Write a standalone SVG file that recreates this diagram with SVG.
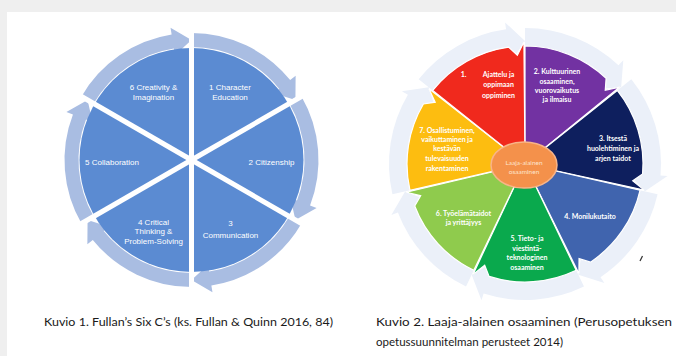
<svg xmlns="http://www.w3.org/2000/svg" width="676" height="356" viewBox="0 0 676 356">
<style>
.lt{font-family:"Liberation Sans",Arial,sans-serif;font-size:8px;fill:#ffffff;text-anchor:middle}
.rt{font-family:Lato,"Liberation Sans",sans-serif;font-size:7px;font-weight:bold;fill:#ffffff;text-anchor:middle}
.ct{font-family:Lato,"Liberation Sans",sans-serif;font-size:6.5px;fill:#fde3cc;text-anchor:middle}
.cap{font-family:Lato,"Liberation Sans",sans-serif;font-size:12px;fill:#1a1a1a}
.ring{fill:#a9bde2}
.pale{fill:#ebf0f9}
.spoke{stroke:#ffffff;stroke-width:5}
.wedge{stroke:#ffffff;stroke-width:1.2}
</style>
<defs>
<path id="larrow" d="M0,-127 A127,127 0 0 1 98.69,-79.92 L104.13,-84.33 L103.92,-60 L82.37,-66.71 L87.81,-71.11 A113,113 0 0 0 0,-113 Z"/>
<path id="parrow" d="M0,-136 A136,136 0 0 1 93.49,-98.78 L98.30,-103.86 L96.16,-76.69 L70.80,-74.81 L75.61,-79.89 A110,110 0 0 0 0,-110 Z"/>
<path id="wedge" d="M0,0 L0,-118 A118,118 0 0 1 81.11,-85.70 L80.26,-73.76 L94.71,-76.91 Z"/>
</defs>
<rect x="0" y="0" width="676" height="356" fill="#efefef"/>
<rect x="7" y="12" width="669" height="344" fill="#ffffff"/>

<g id="fullan-ring" class="ring" transform="translate(191.5,160)">
<use href="#larrow"/>
<use href="#larrow" transform="rotate(60)"/>
<use href="#larrow" transform="rotate(120)"/>
<use href="#larrow" transform="rotate(180)"/>
<use href="#larrow" transform="rotate(240)"/>
<use href="#larrow" transform="rotate(300)"/>
</g>
<g id="fullan-pie">
<circle cx="191.5" cy="160" r="112" fill="#5b8bd2"/>
</g>
<g id="connectors">
<g class="spoke" transform="translate(191.5,160)">
<line x1="0" y1="0" x2="0" y2="-136"/>
<line x1="0" y1="0" x2="117.8" y2="-68"/>
<line x1="0" y1="0" x2="117.8" y2="68"/>
<line x1="0" y1="0" x2="0" y2="136"/>
<line x1="0" y1="0" x2="-117.8" y2="68"/>
<line x1="0" y1="0" x2="-117.8" y2="-68"/>
</g>
</g>
<g id="c1"><text class="lt" x="230" y="90">1 Character</text><text class="lt" x="230" y="100">Education</text></g>
<g id="c2"><text class="lt" x="271.5" y="164.5">2 Citizenship</text></g>
<g id="c3"><text class="lt" x="230.5" y="226">3</text><text class="lt" x="230.5" y="237.5">Communication</text></g>
<g id="c4"><text class="lt" x="153.5" y="224.5">4 Critical</text><text class="lt" x="153.5" y="234">Thinking &amp;</text><text class="lt" x="153.5" y="243.5">Problem-Solving</text></g>
<g id="c5"><text class="lt" x="112" y="164.5">5 Collaboration</text></g>
<g id="c6"><text class="lt" x="153.5" y="90">6 Creativity &amp;</text><text class="lt" x="153.5" y="100">Imagination</text></g>

<g id="laaja-ring" class="pale" transform="translate(525,164)">
<use href="#parrow"/>
<use href="#parrow" transform="rotate(51.43)"/>
<use href="#parrow" transform="rotate(102.86)"/>
<use href="#parrow" transform="rotate(154.29)"/>
<use href="#parrow" transform="rotate(205.71)"/>
<use href="#parrow" transform="rotate(257.14)"/>
<use href="#parrow" transform="rotate(308.57)"/>
</g>
<g id="w2" class="wedge" transform="translate(525,164)"><use href="#wedge" fill="#7232a2"/></g>
<g id="w3" class="wedge" transform="translate(525,164) rotate(51.43)"><use href="#wedge" fill="#0e1f5e"/></g>
<g id="w4" class="wedge" transform="translate(525,164) rotate(102.86)"><use href="#wedge" fill="#4064ae"/></g>
<g id="w5" class="wedge" transform="translate(525,164) rotate(154.29)"><use href="#wedge" fill="#0aa94d"/></g>
<g id="w6" class="wedge" transform="translate(525,164) rotate(205.71)"><use href="#wedge" fill="#8fcb4d"/></g>
<g id="w7" class="wedge" transform="translate(525,164) rotate(257.14)"><use href="#wedge" fill="#fdbd10"/></g>
<g id="w1" class="wedge" transform="translate(525,164) rotate(308.57)"><use href="#wedge" fill="#f0291d"/></g>

<g id="t1"><text class="rt" x="463.5" y="77">1.</text><text class="rt" x="498.5" y="77">Ajattelu ja</text><text class="rt" x="498.5" y="87">oppimaan</text><text class="rt" x="498.5" y="97.5">oppiminen</text></g>
<g id="t2"><text class="rt" x="557" y="74">2. Kulttuurinen</text><text class="rt" x="557" y="83.5">osaaminen,</text><text class="rt" x="557" y="93">vuorovaikutus</text><text class="rt" x="557" y="102">ja ilmaisu</text></g>
<g id="t3"><text class="rt" x="613" y="141">3. Itsestä</text><text class="rt" x="613" y="151">huolehtiminen ja</text><text class="rt" x="613" y="160.5">arjen taidot</text></g>
<g id="t4"><text class="rt" x="590" y="219">4. Monilukutaito</text></g>
<g id="t5"><text class="rt" x="527" y="241">5. Tieto- ja</text><text class="rt" x="527" y="250.5">viestintä-</text><text class="rt" x="527" y="260">teknologinen</text><text class="rt" x="527" y="270">osaaminen</text></g>
<g id="t6"><text class="rt" x="463.5" y="215.5">6. Työelämätaidot</text><text class="rt" x="463.5" y="224.5">ja yrittäjyys</text></g>
<g id="t7"><text class="rt" x="447" y="132.5">7. Osallistuminen,</text><text class="rt" x="447" y="142">vaikuttaminen ja</text><text class="rt" x="447" y="151">kestävän</text><text class="rt" x="447" y="161">tulevaisuuden</text><text class="rt" x="447" y="171">rakentaminen</text></g>
<g id="center">
<ellipse cx="524" cy="165" rx="33" ry="23" fill="#f4914b" stroke="#f8b488" stroke-width="1.5"/>
<text class="ct" x="524" y="164.5">Laaja-alainen</text><text class="ct" x="524" y="174">osaaminen</text>
</g>
<path d="M640,261 L642.5,256" stroke="#333" stroke-width="1.2" fill="none"/>

<text class="cap" x="44" y="326" textLength="289" lengthAdjust="spacingAndGlyphs">Kuvio 1. Fullan’s Six C’s (ks. Fullan &amp; Quinn 2016, 84)</text>
<text class="cap" x="376" y="326" textLength="296" lengthAdjust="spacingAndGlyphs">Kuvio 2. Laaja-alainen osaaminen (Perusopetuksen</text>
<text class="cap" x="376" y="346" textLength="187" lengthAdjust="spacingAndGlyphs">opetussuunnitelman perusteet 2014)</text>
</svg>
